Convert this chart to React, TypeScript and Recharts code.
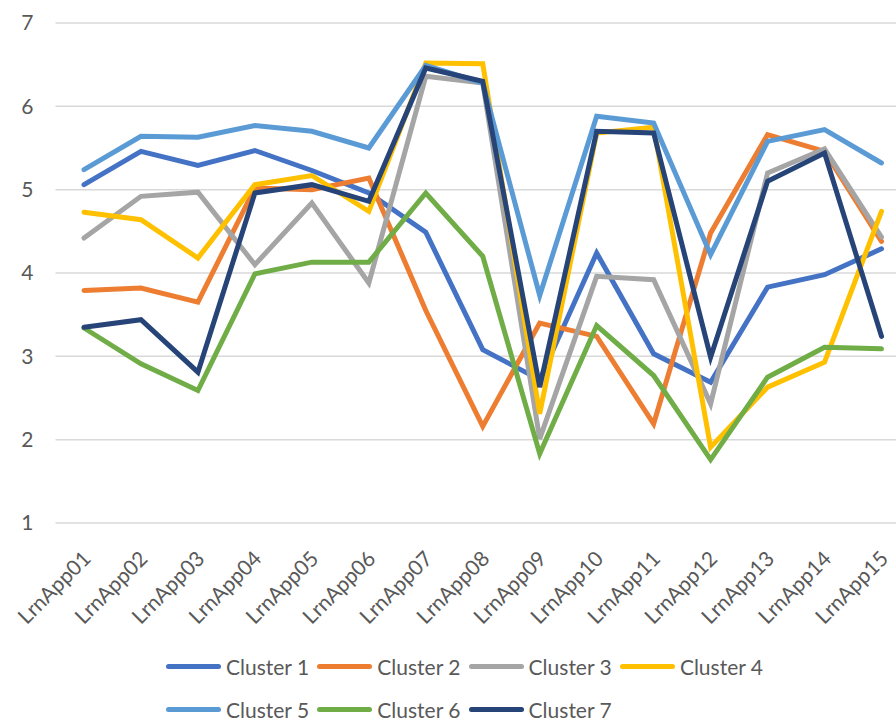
import { CartesianGrid, Legend, Line, LineChart, XAxis, YAxis } from 'recharts';

const apps = [
  'LrnApp01', 'LrnApp02', 'LrnApp03', 'LrnApp04', 'LrnApp05',
  'LrnApp06', 'LrnApp07', 'LrnApp08', 'LrnApp09', 'LrnApp10',
  'LrnApp11', 'LrnApp12', 'LrnApp13', 'LrnApp14', 'LrnApp15',
];

const cluster1 = [5.06, 5.46, 5.29, 5.47, 5.23, 4.96, 4.49, 3.08, 2.72, 4.24, 3.03, 2.69, 3.83, 3.98, 4.29];
const cluster2 = [3.79, 3.82, 3.65, 5.02, 5.0, 5.14, 3.55, 2.16, 3.4, 3.24, 2.19, 4.48, 5.66, 5.46, 4.38];
const cluster3 = [4.42, 4.92, 4.97, 4.1, 4.84, 3.88, 6.36, 6.28, 2.01, 3.96, 3.92, 2.43, 5.2, 5.49, 4.43];
const cluster4 = [4.73, 4.64, 4.18, 5.06, 5.17, 4.74, 6.52, 6.51, 2.31, 5.68, 5.75, 1.91, 2.63, 2.93, 4.74];
const cluster5 = [5.24, 5.64, 5.63, 5.77, 5.7, 5.5, 6.49, 6.28, 3.73, 5.88, 5.8, 4.22, 5.58, 5.72, 5.32];
const cluster6 = [3.34, 2.91, 2.59, 3.99, 4.13, 4.13, 4.96, 4.2, 1.83, 3.37, 2.77, 1.76, 2.75, 3.11, 3.09];
const cluster7 = [3.35, 3.44, 2.81, 4.96, 5.06, 4.86, 6.46, 6.3, 2.63, 5.7, 5.68, 2.99, 5.1, 5.44, 3.24];

const yTicks = [1, 2, 3, 4, 5, 6, 7];

const series = [
  { key: 'Cluster 1', values: cluster1, color: '#4472C4' },
  { key: 'Cluster 2', values: cluster2, color: '#ED7D31' },
  { key: 'Cluster 3', values: cluster3, color: '#A5A5A5' },
  { key: 'Cluster 4', values: cluster4, color: '#FFC000' },
  { key: 'Cluster 5', values: cluster5, color: '#5B9BD5' },
  { key: 'Cluster 6', values: cluster6, color: '#70AD47' },
  { key: 'Cluster 7', values: cluster7, color: '#264478' },
];

const data = apps.map((app, i) => {
  const row: Record<string, string | number> = { app };
  series.forEach((s) => {
    row[s.key] = s.values[i];
  });
  return row;
});

const FONT = 'Lato, "Open Sans", sans-serif';

const AppTick = (props: any) => {
  const { x, y, payload } = props;
  const tx = x + 8;
  const ty = y + 37;
  return (
    <text
      x={tx}
      y={ty}
      transform={`rotate(-45, ${tx}, ${ty})`}
      textAnchor="end"
      fill="#595959"
      fontSize={21}
      fontFamily={FONT}
    >
      {payload.value}
    </text>
  );
};

const renderLegend = (props: any) => {
  const { payload } = props;
  return (
    <div style={{ display: 'flex', flexWrap: 'wrap', width: 620, rowGap: 22 }}>
      {payload.map((entry: any) => (
        <div key={entry.value} style={{ display: 'flex', alignItems: 'center', width: 151.3, height: 21 }}>
          <div style={{ width: 55, height: 5, borderRadius: 3, background: entry.color, marginRight: 5 }} />
          <span style={{ fontFamily: FONT, fontSize: 21, lineHeight: '21px', color: '#595959', whiteSpace: 'nowrap' }}>
            {entry.value}
          </span>
        </div>
      ))}
    </div>
  );
};

export default function App() {
  return (
    <div style={{ position: 'absolute', left: 0, top: 0, width: 896, height: 722, overflow: 'hidden', background: '#fff' }}>
      <LineChart width={910} height={722} data={data} margin={{ top: 23, right: 0, bottom: 99, left: 0 }}>
        <CartesianGrid horizontal vertical={false} stroke="#D9D9D9" strokeWidth={1.5} />
        <XAxis
          dataKey="app"
          axisLine={false}
          tickLine={false}
          tickSize={0}
          tickMargin={0}
          height={100}
          interval={0}
          padding={{ left: 28.5, right: 28.5 }}
          tick={<AppTick />}
        />
        <YAxis
          domain={[1, 7]}
          ticks={yTicks}
          width={55.5}
          axisLine={false}
          tickLine={false}
          tickSize={8}
          tickMargin={14}
          tick={{ fill: '#595959', fontSize: 21, fontFamily: FONT }}
        />
        <Legend
          layout="horizontal"
          verticalAlign="middle"
          align="center"
          content={renderLegend}
          wrapperStyle={{ top: 656, left: 166, width: 620 }}
        />
        {series.map((s) => (
          <Line
            key={s.key}
            type="linear"
            dataKey={s.key}
            stroke={s.color}
            strokeWidth={5}
            strokeLinecap="round"
            dot={false}
            activeDot={false}
            isAnimationActive={false}
          />
        ))}
      </LineChart>
    </div>
  );
}
